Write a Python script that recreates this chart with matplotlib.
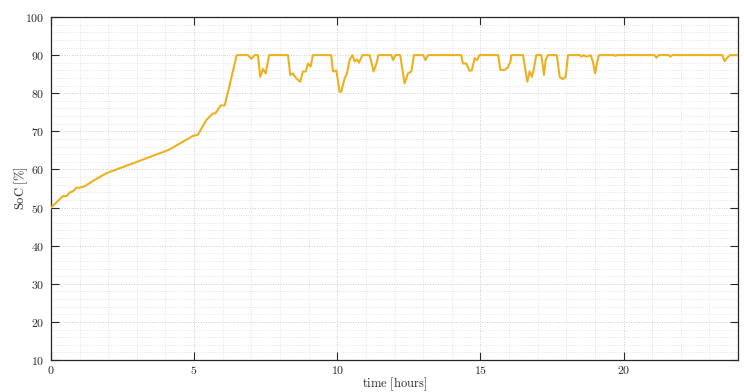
import matplotlib
matplotlib.use("Agg")
import matplotlib.pyplot as plt
from matplotlib.ticker import MultipleLocator

plt.rcParams['mathtext.fontset'] = 'cm'
plt.rcParams['font.family'] = ['DejaVu Serif']

# time in hours, state of charge in percent
time_h = [0.0, 0.42, 0.54, 0.65, 0.77, 0.89, 1.0, 1.18, 1.47, 1.93, 2.86, 4.03, 4.15,
          4.96, 5.13, 5.43, 5.66, 5.74, 5.93, 6.07, 6.49,
          6.88, 7.0, 7.12, 7.23, 7.31, 7.41, 7.5, 7.62,
          8.28, 8.36, 8.45, 8.57, 8.71, 8.8, 8.9, 8.98, 9.07, 9.15,
          9.79, 9.85, 9.97, 10.08, 10.14, 10.26, 10.34, 10.43, 10.53, 10.61, 10.69, 10.76, 10.88,
          11.13, 11.23, 11.27, 11.37, 11.44,
          11.89, 11.95, 12.03,
          12.2, 12.35, 12.47, 12.59, 12.68,
          13.0, 13.08, 13.17,
          14.33, 14.39, 14.51, 14.62, 14.7, 14.8, 14.88, 14.97,
          15.62, 15.7, 15.85, 15.96, 16.05, 16.08,
          16.49, 16.58, 16.64, 16.72, 16.8, 16.87, 16.95,
          17.13, 17.22, 17.28, 17.36,
          17.67, 17.77, 17.88, 17.98, 18.06,
          18.47, 18.53, 18.61, 18.7, 18.85, 18.93, 19.01, 19.07, 19.14,
          19.66, 19.72, 19.78,
          21.08, 21.15, 21.22,
          21.58, 21.64, 21.7,
          23.45, 23.53, 23.61, 23.72, 24.0]
soc = [50.0, 53.0, 53.0, 53.9, 54.3, 55.2, 55.2, 55.6, 57.0, 59.0, 61.6, 64.9, 65.3,
       68.8, 69.1, 73.0, 74.7, 74.7, 76.8, 76.8, 90.0,
       90.0, 89.0, 90.0, 90.0, 84.3, 86.4, 85.2, 90.0,
       90.0, 84.8, 85.2, 83.9, 83.0, 85.7, 85.7, 87.8, 87.0, 90.0,
       90.0, 85.7, 86.0, 80.4, 80.4, 83.9, 85.2, 88.7, 90.0, 88.3, 88.9, 88.0, 90.0,
       90.0, 87.0, 85.7, 87.8, 90.0,
       90.0, 88.7, 90.0,
       90.0, 82.6, 85.2, 85.7, 90.0,
       90.0, 88.7, 90.0,
       90.0, 87.8, 87.8, 85.9, 86.0, 89.2, 88.7, 90.0,
       90.0, 86.1, 86.1, 86.8, 88.3, 90.0,
       90.0, 85.7, 83.0, 85.7, 84.3, 86.5, 90.0,
       90.0, 84.8, 88.7, 90.0,
       90.0, 84.3, 83.7, 84.3, 90.0,
       90.0, 89.6, 90.0, 89.6, 90.0, 88.3, 85.2, 87.8, 90.0,
       90.0, 89.8, 90.0,
       90.0, 89.3, 90.0,
       90.0, 89.6, 90.0,
       90.0, 88.4, 89.2, 90.0, 90.0]

x_ticks = [0, 5, 10, 15, 20]
y_ticks = [10, 20, 30, 40, 50, 60, 70, 80, 90, 100]

fig = plt.figure(figsize=(7.44, 3.92), dpi=100)
ax = fig.add_axes([0.0685, 0.0816, 0.9235, 0.875])

ax.plot(time_h, soc, color='#EDB120', linewidth=1.5, zorder=3)

ax.set_xlim(0, 24)
ax.set_ylim(10, 100)
ax.set_xticks(x_ticks)
ax.set_yticks(y_ticks)
ax.set_xticklabels([r'$%d$' % v for v in x_ticks], fontsize=8.5)
ax.set_yticklabels([r'$%d$' % v for v in y_ticks], fontsize=8.5)
ax.xaxis.set_minor_locator(MultipleLocator(1))
ax.yaxis.set_minor_locator(MultipleLocator(2))

ax.grid(which='major', linestyle=':', color='#cccccc', linewidth=0.7)
ax.grid(which='minor', linestyle=':', color='#dddddd', linewidth=0.6)
ax.set_axisbelow(True)

ax.tick_params(which='major', direction='in', length=6, width=0.8, color='#262626',
               top=True, right=True, labelcolor='#262626')
ax.tick_params(axis='x', which='major', pad=3)
ax.tick_params(axis='y', which='major', pad=5)
ax.tick_params(which='minor', length=0, top=True, right=True)
for s in ax.spines.values():
    s.set_color('#262626')
    s.set_linewidth(0.9)

ax.set_xlabel(r'$\mathrm{time\ [hours]}$', fontsize=9, color='#262626', labelpad=-1)
ax.set_ylabel(r'$\mathrm{SoC\ [\%]}$', fontsize=9, color='#262626', labelpad=-4)

fig.savefig('out.png', dpi=100)
